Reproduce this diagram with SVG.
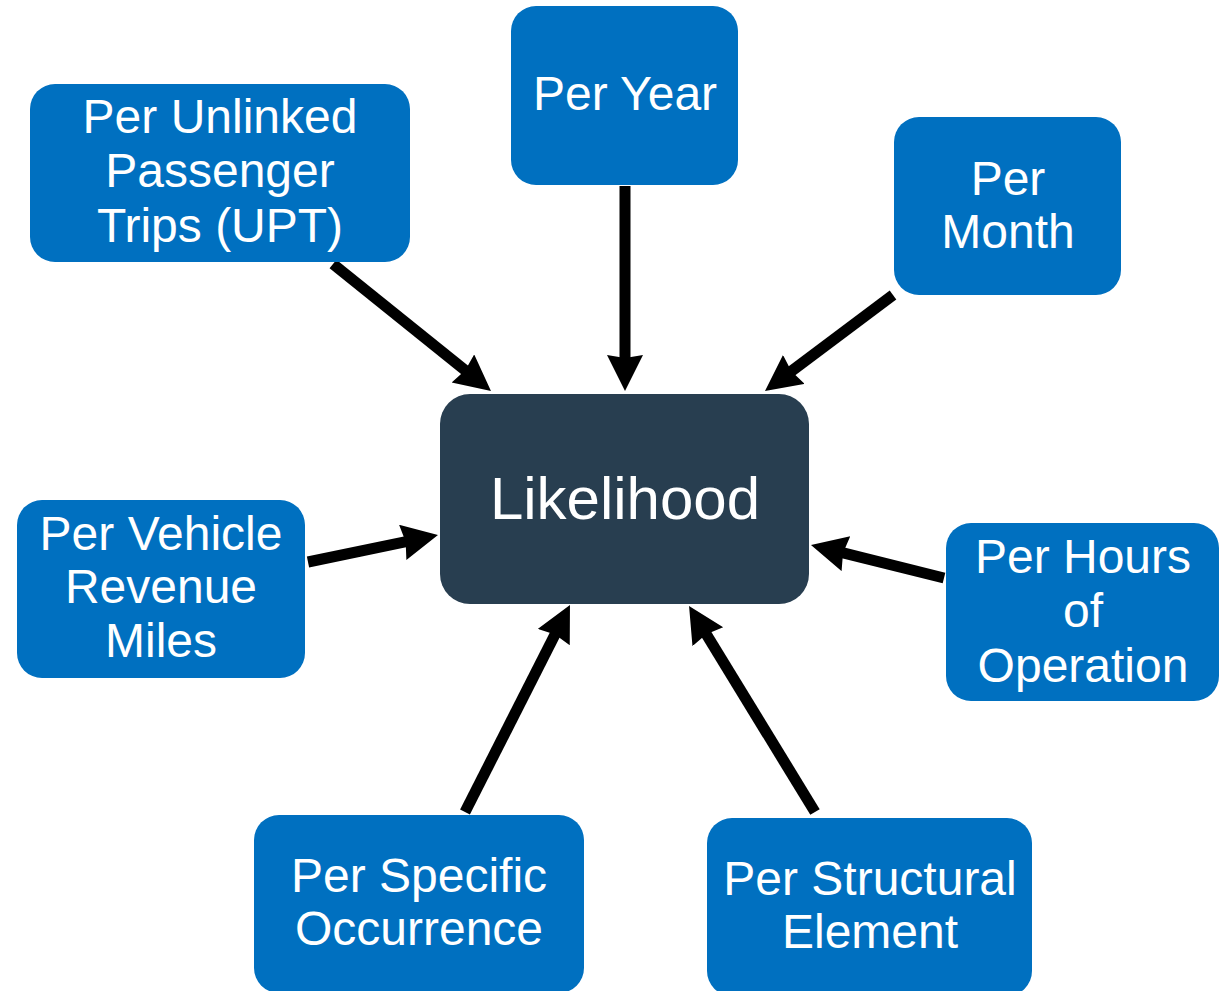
<svg xmlns="http://www.w3.org/2000/svg" width="1227" height="991" viewBox="0 0 1227 991">
<style>
.box{fill:#0070c0;}
.center{fill:#283e50;}
.t{font-family:"Liberation Sans",Arial,sans-serif;font-size:48px;fill:#ffffff;text-anchor:middle;}
.tc{font-family:"Liberation Sans",Arial,sans-serif;font-size:60px;fill:#ffffff;text-anchor:middle;}
.arr{stroke:#000;stroke-width:11;fill:none;marker-end:url(#ah);}
</style>
<defs>
<marker id="ah" markerUnits="userSpaceOnUse" markerWidth="40" markerHeight="40" refX="6" refY="18" orient="auto" viewBox="0 0 40 40">
<path d="M0,0 L36,18 L0,36 L3,18 z" fill="#000"/>
</marker>
</defs>
<rect width="1227" height="991" fill="#ffffff"/>
<g id="connectors">
<line class="arr" x1="333" y1="264" x2="467.6" y2="372.2"/>
<line class="arr" x1="625" y1="186" x2="625" y2="361"/>
<line class="arr" x1="893" y1="295" x2="789" y2="373"/>
<line class="arr" x1="308" y1="562" x2="408.6" y2="541.1"/>
<line class="arr" x1="944" y1="578" x2="840.1" y2="552.2"/>
<line class="arr" x1="465" y1="812" x2="556.4" y2="631.8"/>
<line class="arr" x1="815" y1="812" x2="704.7" y2="631.6"/>
</g>
<g id="likelihood">
<rect class="center" x="440" y="394" width="369" height="210" rx="30"/>
<text class="tc" x="625" y="519">Likelihood</text>
</g>
<g id="upt">
<rect class="box" x="30" y="84" width="380" height="178" rx="25"/>
<text class="t" x="220" y="133">Per Unlinked</text>
<text class="t" x="220" y="187">Passenger</text>
<text class="t" x="220" y="242">Trips (UPT)</text>
</g>
<g id="year">
<rect class="box" x="511" y="6" width="227" height="179" rx="25"/>
<text class="t" x="625" y="110">Per Year</text>
</g>
<g id="month">
<rect class="box" x="894" y="117" width="227" height="178" rx="25"/>
<text class="t" x="1008" y="195">Per</text>
<text class="t" x="1008" y="248">Month</text>
</g>
<g id="vehicle">
<rect class="box" x="17" y="500" width="288" height="178" rx="25"/>
<text class="t" x="161" y="550">Per Vehicle</text>
<text class="t" x="161" y="603">Revenue</text>
<text class="t" x="161" y="657">Miles</text>
</g>
<g id="hours">
<rect class="box" x="946" y="523" width="273" height="178" rx="25"/>
<text class="t" x="1083" y="573">Per Hours</text>
<text class="t" x="1083" y="627">of</text>
<text class="t" x="1083" y="682">Operation</text>
</g>
<g id="specific">
<rect class="box" x="254" y="815" width="330" height="178" rx="25"/>
<text class="t" x="419" y="892">Per Specific</text>
<text class="t" x="419" y="945">Occurrence</text>
</g>
<g id="structural">
<rect class="box" x="707" y="818" width="325" height="178" rx="25"/>
<text class="t" x="870" y="895">Per Structural</text>
<text class="t" x="870" y="948">Element</text>
</g>
</svg>
